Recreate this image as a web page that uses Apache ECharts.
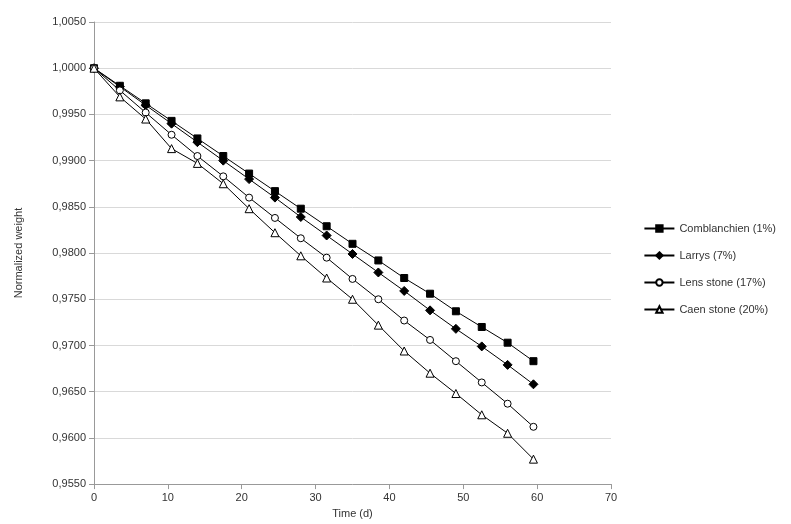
<!DOCTYPE html>
<html>
<head>
<meta charset="UTF-8">
<script src="https://cdn.jsdelivr.net/npm/echarts@6/dist/echarts.min.js"></script>
</head>
<body style="margin:0">
<div id="chart" style="width:791px;height:524px;"></div>
<script>
var days = [0, 3.5, 7, 10.5, 14, 17.5, 21, 24.5, 28, 31.5, 35, 38.5, 42, 45.5, 49, 52.5, 56, 59.5];
var comblanchien = [1.0000, 0.9981, 0.9962, 0.9943, 0.9924, 0.9905, 0.9886, 0.9867, 0.9848, 0.9829, 0.9810, 0.9792, 0.9773, 0.9756, 0.9737, 0.9720, 0.9703, 0.9683];
var larrys = [1.0000, 0.9980, 0.9960, 0.9940, 0.9920, 0.9900, 0.9880, 0.9860, 0.9839, 0.9819, 0.9799, 0.9779, 0.9759, 0.9738, 0.9718, 0.9699, 0.9679, 0.9658];
var lens = [1.0000, 0.9976, 0.9952, 0.9928, 0.9905, 0.9883, 0.9860, 0.9838, 0.9816, 0.9795, 0.9772, 0.9750, 0.9727, 0.9706, 0.9683, 0.9660, 0.9637, 0.9612];
var caen = [1.0000, 0.9969, 0.9945, 0.9913, 0.9897, 0.9875, 0.9848, 0.9822, 0.9797, 0.9773, 0.9750, 0.9722, 0.9694, 0.9670, 0.9648, 0.9625, 0.9605, 0.9577];

function pairs(ys) {
    return days.map(function (d, i) { return [d, ys[i]]; });
}
function mk(name, ys, symbol, filled, size) {
    return {
        name: name, type: 'line', data: pairs(ys),
        symbol: symbol, symbolSize: size, showAllSymbol: true,
        lineStyle: { color: '#000', width: 1 },
        itemStyle: { color: filled ? '#000' : '#fff', borderColor: '#000', borderWidth: 1 }
    };
}
var chart = echarts.init(document.getElementById('chart'));
chart.setOption({
    animation: false,
    textStyle: { fontFamily: 'Liberation Sans, Arial', color: '#333' },
    grid: { left: 94, right: 180, top: 22, bottom: 33 },
    legend: {
        orient: 'vertical', right: 10, top: 218, itemGap: 16,
        itemWidth: 30, itemHeight: 8,
        textStyle: { fontSize: 11, color: '#333' },
        data: ['Comblanchien (1%)', 'Larrys (7%)', 'Lens stone (17%)', 'Caen stone (20%)']
    },
    xAxis: {
        type: 'value', min: 0, max: 70, interval: 10,
        name: 'Time (d)', nameLocation: 'middle', nameGap: 18,
        nameTextStyle: { fontSize: 11 },
        axisLine: { lineStyle: { color: '#999' } },
        axisTick: { show: true, lineStyle: { color: '#999' } },
        axisLabel: { fontSize: 11, color: '#333' },
        splitLine: { show: false }
    },
    yAxis: {
        type: 'value', min: 0.955, max: 1.005, interval: 0.005,
        name: 'Normalized weight', nameLocation: 'middle', nameGap: 70,
        nameTextStyle: { fontSize: 11 },
        axisLine: { show: true, lineStyle: { color: '#999' } },
        axisLabel: { fontSize: 11, color: '#333', formatter: function (v) { return v.toFixed(4).replace('.', ','); } },
        splitLine: { lineStyle: { color: '#d9d9d9' } }
    },
    series: [
        mk('Comblanchien (1%)', comblanchien, 'rect', true, 7),
        mk('Larrys (7%)', larrys, 'diamond', true, 9),
        mk('Lens stone (17%)', lens, 'circle', false, 7),
        mk('Caen stone (20%)', caen, 'triangle', false, 8)
    ]
});
</script>
</body>
</html>
